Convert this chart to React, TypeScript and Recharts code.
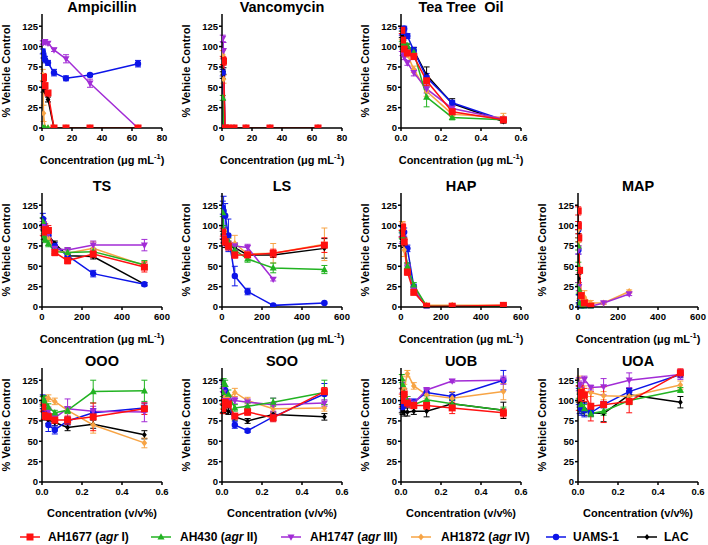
import React from "react";
import { LineChart, Line, XAxis, YAxis, ErrorBar } from "recharts";

// strain order: AH1677, AH430, AH1747, AH1872, UAMS-1, LAC
const strainNames = ["AH1677", "AH430", "AH1747", "AH1872", "UAMS-1", "LAC"];
const strainAgr = ["I", "II", "III", "IV", "", ""];
const strainColors = ["#ff1010", "#22b322", "#a22cd6", "#f7a445", "#0c14e8", "#000000"];
const strainShapes = ["square", "triUp", "triDown", "diamond", "circle", "cross"];

const yTicks = [0, 25, 50, 75, 100, 125];

// Ampicillin (µg/mL)
const ampX = [0.5, 1, 2, 4, 8, 16, 32, 64];
const ampAH1677 = [null, 62, 52, 43, 0, 0, 0, 0];
const ampAH430 = [0, 0, 0, 0, 0, 0, 0, 0];
const ampAH1747 = [105, 105, 106, 104, 96, 85, 55, 0];
const ampAH1872 = [65, 18, 0, 0, 0, 0, 0, 0];
const ampUAMS1 = [94, 89, 84, 80, 68, 61, 65, 79];
const ampLAC = [null, 47, 45, 35, 0, 0, 0, 0];
const ampErr = [
  [0, 5, 3, 2, 0, 0, 0, 0],
  [0, 0, 0, 0, 0, 0, 0, 0],
  [2, 2, 2, 2, 2, 5, 5, 0],
  [7, 10, 0, 0, 0, 0, 0, 0],
  [3, 3, 4, 3, 4, 3, 2, 4],
  [0, 3, 3, 3, 0, 0, 0, 0],
];

// Vancomycin (µg/mL)
const vanX = [0.5, 1, 2, 4, 8, 16, 32, 64];
const vanAH1677 = [83, 82, 0, 0, 0, 0, 0, 0];
const vanAH430 = [37, 0, 0, 0, 0, 0, 0, 0];
const vanAH1747 = [110, 95, 0, 0, 0, 0, 0, 0];
const vanAH1872 = [90, 60, 0, 0, 0, 0, 0, 0];
const vanUAMS1 = [68, 0, 0, 0, 0, 0, 0, 0];
const vanLAC = [65, 70, 0, 0, 0, 0, 0, 0];
const vanErr = [
  [5, 5, 0, 0, 0, 0, 0, 0],
  [3, 0, 0, 0, 0, 0, 0, 0],
  [4, 10, 0, 0, 0, 0, 0, 0],
  [5, 5, 0, 0, 0, 0, 0, 0],
  [4, 0, 0, 0, 0, 0, 0, 0],
  [4, 4, 0, 0, 0, 0, 0, 0],
];

// Tea Tree Oil (µg/mL)
const ttoX = [0.004, 0.008, 0.016, 0.032, 0.064, 0.128, 0.256, 0.512];
const ttoAH1677 = [120, 108, 97, 92, 88, 58, 20, 10];
const ttoAH430 = [103, 100, 101, 101, 93, 38, 13, 10];
const ttoAH1747 = [97, 93, 87, 80, 68, 48, 24, 11];
const ttoAH1872 = [105, 100, 95, 90, 72, 45, 17, 13];
const ttoUAMS1 = [118, 120, 122, 113, 95, 62, 31, 10];
const ttoLAC = [115, 112, 108, 100, 95, 65, 30, 8];
const ttoErr = [
  [4, 5, 3, 3, 4, 6, 3, 2],
  [3, 3, 3, 3, 4, 12, 3, 2],
  [3, 4, 3, 3, 4, 5, 3, 2],
  [4, 4, 4, 3, 4, 6, 3, 5],
  [4, 5, 3, 3, 4, 5, 3, 2],
  [4, 4, 4, 3, 4, 10, 6, 2],
];

// TS (µg/mL)
const tsX = [4, 8, 16, 32, 64, 128, 256, 512];
const tsAH1677 = [93, 92, 95, 94, 67, 57, 65, 49];
const tsAH430 = [105, 88, 83, 78, 68, 67, 68, 52];
const tsAH1747 = [100, 102, 97, 90, 72, 70, 76, 76];
const tsAH1872 = [100, 95, 90, 85, 70, 66, 72, 51];
const tsUAMS1 = [108, 103, 95, 88, 75, 63, 41, 28];
const tsLAC = [105, 98, 92, 88, 78, 63, 62, 28];
const tsErr = [
  [5, 5, 7, 6, 4, 4, 4, 6],
  [5, 5, 4, 4, 4, 5, 4, 5],
  [5, 6, 5, 4, 4, 3, 5, 7],
  [5, 5, 5, 4, 4, 4, 8, 5],
  [7, 6, 5, 4, 4, 4, 4, 2],
  [4, 4, 4, 4, 3, 3, 3, 2],
];

// LS (µg/mL)
const lsX = [4, 8, 16, 32, 64, 128, 256, 512];
const lsAH1677 = [92, 83, 80, 75, 64, 64, 66, 76];
const lsAH430 = [116, 95, 82, 80, 70, 59, 48, 46];
const lsAH1747 = [90, 85, 80, 75, 75, 73, 34, null];
const lsAH1872 = [90, 88, 82, 78, 78, 65, 66, 77];
const lsUAMS1 = [122, 118, 112, 88, 38, 19, 2, 5];
const lsLAC = [88, 84, 78, 76, 73, 64, 64, 72];
const lsErr = [
  [5, 5, 4, 5, 4, 3, 5, 9],
  [5, 5, 5, 5, 5, 4, 6, 5],
  [6, 5, 5, 5, 4, 4, 2, 0],
  [6, 6, 6, 6, 10, 4, 12, 20],
  [8, 18, 15, 20, 12, 4, 1, 1],
  [5, 5, 5, 5, 4, 3, 3, 12],
];

// HAP (µg/mL)
const hapX = [4, 8, 16, 32, 64, 128, 256, 512];
const hapAH1677 = [90, 98, 80, 43, 18, 1, 1, 2];
const hapAH430 = [88, 85, 80, 50, 27, 1, 1, 1];
const hapAH1747 = [82, 85, 80, 48, 22, 0, 1, 1];
const hapAH1872 = [100, 97, 70, 45, 22, 2, 2, 2];
const hapUAMS1 = [95, 93, 92, 72, 25, 0, 1, 1];
const hapLAC = [90, 88, 78, 48, 20, 0, 1, 1];
const hapErr = [
  [4, 5, 5, 4, 3, 1, 1, 1],
  [4, 5, 5, 4, 3, 1, 1, 1],
  [4, 5, 5, 4, 3, 1, 1, 1],
  [5, 8, 8, 4, 3, 1, 1, 1],
  [4, 5, 5, 4, 3, 1, 1, 1],
  [4, 5, 5, 6, 3, 1, 1, 1],
];

// MAP (µg/mL)
const mapX = [1, 2, 4, 8, 16, 32, 64, 128, 256];
const mapAH1677 = [118, 100, 85, 45, 14, 5, 1, null, null];
const mapAH430 = [75, 50, 22, 5, 0, 0, 0, null, null];
const mapAH1747 = [100, 70, 25, 5, 2, 1, 1, 5, 16];
const mapAH1872 = [95, 80, 25, 15, 10, 12, 5, 5, 19];
const mapUAMS1 = [95, 70, 10, 0, 0, 0, 0, null, null];
const mapLAC = [90, 35, 10, 2, 0, 0, 0, null, null];
const mapErr = [
  [5, 5, 5, 3, 3, 2, 1, 0, 0],
  [5, 5, 5, 3, 1, 1, 1, 0, 0],
  [5, 5, 5, 3, 1, 1, 1, 1, 2],
  [5, 5, 5, 5, 5, 8, 3, 2, 2],
  [5, 5, 5, 1, 1, 1, 1, 0, 0],
  [5, 5, 5, 1, 1, 1, 1, 0, 0],
];

// oils (v/v%)
const oilX = [0.004, 0.008, 0.016, 0.032, 0.064, 0.128, 0.256, 0.512];

const oooAH1677 = [92, 82, 81, 80, 76, 76, 80, 90];
const oooAH430 = [100, 102, 97, 92, 85, 88, 111, 112];
const oooAH1747 = [100, 95, 90, 87, 79, 90, 87, 86];
const oooAH1872 = [97, 100, 101, 103, 99, 88, 70, 48];
const oooUAMS1 = [100, 98, 85, 70, 64, 75, 85, 91];
const oooLAC = [95, 90, 80, 76, 73, 67, 71, 58];
const oooErr = [
  [5, 5, 4, 4, 4, 5, 17, 7],
  [5, 4, 4, 4, 3, 4, 14, 13],
  [5, 5, 5, 5, 5, 12, 6, 12],
  [4, 4, 4, 4, 4, 4, 10, 6],
  [7, 8, 7, 8, 5, 5, 5, 5],
  [5, 4, 4, 4, 4, 4, 5, 5],
];

const sooAH1677 = [90, 95, 98, 96, 81, 86, 79, 111];
const sooAH430 = [110, 122, 120, 108, 91, 93, 98, 110];
const sooAH1747 = [117, 110, 100, 100, 100, 98, 95, 97];
const sooAH1872 = [95, 100, 105, 102, 110, 100, 90, 91];
const sooUAMS1 = [120, 115, 112, 100, 70, 63, 80, 108];
const sooLAC = [90, 90, 88, 87, 80, 75, 83, 80];
const sooErr = [
  [6, 6, 5, 5, 3, 4, 5, 5],
  [5, 5, 5, 5, 4, 4, 5, 15],
  [6, 5, 5, 5, 4, 4, 8, 4],
  [5, 5, 5, 5, 5, 4, 4, 4],
  [5, 5, 5, 4, 4, 2, 5, 13],
  [5, 4, 4, 4, 4, 3, 3, 4],
];

const uobAH1677 = [100, 107, 108, 97, 94, 94, 91, 85];
const uobAH430 = [127, 120, 110, 100, 95, 101, 96, 88];
const uobAH1747 = [120, 105, 100, 100, 97, 113, 124, 125];
const uobAH1872 = [110, 125, 115, 133, 118, 107, 103, 111];
const uobUAMS1 = [95, 92, 97, 97, 98, 110, 105, 125];
const uobLAC = [90, 88, 86, 86, 87, 87, 96, 88];
const uobErr = [
  [8, 7, 6, 5, 4, 5, 7, 5],
  [5, 5, 5, 5, 4, 5, 5, 4],
  [5, 5, 5, 5, 4, 3, 2, 5],
  [5, 5, 5, 4, 4, 4, 8, 10],
  [5, 5, 5, 4, 4, 4, 5, 12],
  [5, 5, 5, 5, 4, 7, 5, 10],
];

const uoaAH1677 = [103, 108, 110, 107, 93, 95, 99, 134];
const uoaAH430 = [112, 105, 95, 90, 84, 87, 100, 113];
const uoaAH1747 = [120, 118, 110, 126, 116, 117, 125, 132];
const uoaAH1872 = [115, 120, 112, 110, 110, 106, 105, 119];
const uoaUAMS1 = [105, 92, 90, 88, 85, 95, 111, 132];
const uoaLAC = [108, 100, 92, 90, 85, 84, 107, 98];
const uoaErr = [
  [15, 10, 8, 8, 18, 22, 14, 5],
  [10, 8, 8, 5, 4, 5, 5, 3],
  [8, 6, 6, 4, 3, 10, 9, 6],
  [12, 10, 8, 8, 5, 5, 5, 5],
  [10, 8, 8, 8, 4, 4, 4, 4],
  [10, 8, 8, 8, 4, 10, 8, 7],
];

const colLeft = [42, 222, 401, 578];
const rowTop = [14, 193, 368];
const PW = 120;
const PH = 114;

const FONT = "'Liberation Sans', Arial, Helvetica, sans-serif";

type Vals = (number | null)[];
interface PanelDef {
  title: string;
  col: number;
  row: number;
  x: number[];
  ys: Vals[];
  errs: number[][];
  xMax: number;
  xTicks: number[];
  decimals: number;
  unit: "ug" | "vv";
}

const ugTicks80 = [0, 20, 40, 60, 80];
const ugTicks600 = [0, 200, 400, 600];
const fracTicks = [0, 0.2, 0.4, 0.6];

const panels: PanelDef[] = [
  { title: "Ampicillin", col: 0, row: 0, x: ampX, ys: [ampAH1677, ampAH430, ampAH1747, ampAH1872, ampUAMS1, ampLAC], errs: ampErr, xMax: 80, xTicks: ugTicks80, decimals: 0, unit: "ug" },
  { title: "Vancomycin", col: 1, row: 0, x: vanX, ys: [vanAH1677, vanAH430, vanAH1747, vanAH1872, vanUAMS1, vanLAC], errs: vanErr, xMax: 80, xTicks: ugTicks80, decimals: 0, unit: "ug" },
  { title: "Tea Tree  Oil", col: 2, row: 0, x: ttoX, ys: [ttoAH1677, ttoAH430, ttoAH1747, ttoAH1872, ttoUAMS1, ttoLAC], errs: ttoErr, xMax: 0.6, xTicks: fracTicks, decimals: 1, unit: "ug" },
  { title: "TS", col: 0, row: 1, x: tsX, ys: [tsAH1677, tsAH430, tsAH1747, tsAH1872, tsUAMS1, tsLAC], errs: tsErr, xMax: 600, xTicks: ugTicks600, decimals: 0, unit: "ug" },
  { title: "LS", col: 1, row: 1, x: lsX, ys: [lsAH1677, lsAH430, lsAH1747, lsAH1872, lsUAMS1, lsLAC], errs: lsErr, xMax: 600, xTicks: ugTicks600, decimals: 0, unit: "ug" },
  { title: "HAP", col: 2, row: 1, x: hapX, ys: [hapAH1677, hapAH430, hapAH1747, hapAH1872, hapUAMS1, hapLAC], errs: hapErr, xMax: 600, xTicks: ugTicks600, decimals: 0, unit: "ug" },
  { title: "MAP", col: 3, row: 1, x: mapX, ys: [mapAH1677, mapAH430, mapAH1747, mapAH1872, mapUAMS1, mapLAC], errs: mapErr, xMax: 600, xTicks: ugTicks600, decimals: 0, unit: "ug" },
  { title: "OOO", col: 0, row: 2, x: oilX, ys: [oooAH1677, oooAH430, oooAH1747, oooAH1872, oooUAMS1, oooLAC], errs: oooErr, xMax: 0.6, xTicks: fracTicks, decimals: 1, unit: "vv" },
  { title: "SOO", col: 1, row: 2, x: oilX, ys: [sooAH1677, sooAH430, sooAH1747, sooAH1872, sooUAMS1, sooLAC], errs: sooErr, xMax: 0.6, xTicks: fracTicks, decimals: 1, unit: "vv" },
  { title: "UOB", col: 2, row: 2, x: oilX, ys: [uobAH1677, uobAH430, uobAH1747, uobAH1872, uobUAMS1, uobLAC], errs: uobErr, xMax: 0.6, xTicks: fracTicks, decimals: 1, unit: "vv" },
  { title: "UOA", col: 3, row: 2, x: oilX, ys: [uoaAH1677, uoaAH430, uoaAH1747, uoaAH1872, uoaUAMS1, uoaLAC], errs: uoaErr, xMax: 0.6, xTicks: fracTicks, decimals: 1, unit: "vv" },
];

// draw LAC first, AH1677 last (on top)
const drawOrder = [5, 4, 3, 2, 1, 0];

function Marker({ shape, x, y, color }: { shape: string; x: number; y: number; color: string }) {
  switch (shape) {
    case "square":
      return <rect x={x - 3.5} y={y - 3.5} width={7} height={7} fill={color} />;
    case "triUp":
      return <polygon points={`${x},${y - 3.8} ${x + 3.5},${y + 2.6} ${x - 3.5},${y + 2.6}`} fill={color} />;
    case "triDown":
      return <polygon points={`${x},${y + 3.8} ${x + 3.5},${y - 2.6} ${x - 3.5},${y - 2.6}`} fill={color} />;
    case "diamond":
      return <polygon points={`${x},${y - 3.5} ${x + 2.8},${y} ${x},${y + 3.5} ${x - 2.8},${y}`} fill={color} />;
    case "circle":
      return <circle cx={x} cy={y} r={3.2} fill={color} />;
    default:
      return <polygon points={`${x},${y - 3} ${x + 2.4},${y} ${x},${y + 3} ${x - 2.4},${y}`} fill={color} />;
  }
}

const makeDot = (si: number) => (p: any) => {
  const { cx, cy, value, index } = p;
  const key = `d${si}-${index}`;
  if (cx == null || cy == null || value == null || Number.isNaN(cy)) return <g key={key} />;
  return (
    <g key={key}>
      <Marker shape={strainShapes[si]} x={cx} y={cy} color={strainColors[si]} />
    </g>
  );
};

function Panel({ p }: { p: PanelDef }) {
  const data = p.x.map((x, i) => {
    const row: Record<string, number | null> = { x };
    p.ys.forEach((vals, si) => {
      const v = vals[i] ?? null;
      row[`s${si}`] = v;
      row[`e${si}`] = v == null ? null : p.errs[si][i];
    });
    return row;
  });
  const left = colLeft[p.col];
  const top = rowTop[p.row];
  const tickStyle = { fill: "#000", fontSize: 9.5, fontWeight: 700, fontFamily: FONT };
  return (
    <>
      <div
        style={{
          position: "absolute",
          left: left + PW / 2,
          top: top - 7,
          transform: "translate(-50%, -50%)",
          fontSize: 14.5,
          fontWeight: 700,
          whiteSpace: "pre",
        }}
      >
        {p.title}
      </div>
      <div
        style={{
          position: "absolute",
          left: left - 36,
          top: top + PH / 2,
          transform: "translate(-50%, -50%) rotate(-90deg)",
          fontSize: 11,
          fontWeight: 700,
          whiteSpace: "nowrap",
        }}
      >
        % Vehicle Control
      </div>
      <div
        style={{
          position: "absolute",
          left: left + PW / 2,
          top: top + PH + 31,
          transform: "translate(-50%, -50%)",
          fontSize: 11,
          fontWeight: 700,
          whiteSpace: "nowrap",
        }}
      >
        {p.unit === "ug" ? (
          <>
            Concentration (μg mL<sup style={{ fontSize: 7.5 }}>-1</sup>)
          </>
        ) : (
          "Concentration (v/v%)"
        )}
      </div>
      <div style={{ position: "absolute", left: left - 40, top: top - 6 }}>
        <LineChart width={40 + PW + 12} height={6 + PH + 22} data={data} margin={{ top: 6, right: 12, bottom: 0, left: 0 }}>
          <XAxis
            dataKey="x"
            type="number"
            domain={[0, p.xMax]}
            ticks={p.xTicks}
            interval={0}
            tickFormatter={(v: number) => v.toFixed(p.decimals)}
            stroke="#000"
            strokeWidth={1.5}
            tickSize={3}
            tickMargin={3}
            height={22}
            tick={tickStyle}
            allowDataOverflow
          />
          <YAxis
            type="number"
            domain={[0, 140]}
            ticks={yTicks}
            interval={0}
            stroke="#000"
            strokeWidth={1.5}
            tickSize={3}
            tickMargin={1}
            width={40}
            tick={tickStyle}
            allowDataOverflow
          />
          {drawOrder.map((si) => (
            <Line
              key={si}
              type="linear"
              dataKey={`s${si}`}
              stroke={strainColors[si]}
              strokeWidth={1.5}
              dot={makeDot(si)}
              activeDot={false}
              connectNulls
              isAnimationActive={false}
            >
              <ErrorBar
                dataKey={`e${si}`}
                direction="y"
                width={3}
                stroke={strainColors[si]}
                strokeWidth={1}
                isAnimationActive={false}
              />
            </Line>
          ))}
        </LineChart>
      </div>
    </>
  );
}

const legendMarkerX = [30, 161, 291, 421, 556, 647];
const legendTextX = [48, 180, 310, 441, 573, 664];

function Legend() {
  return (
    <>
      {strainNames.map((name, si) => (
        <React.Fragment key={name}>
          <svg
            width={24}
            height={12}
            style={{ position: "absolute", left: legendMarkerX[si] - 12, top: 531 }}
          >
            <line x1={2} y1={6} x2={22} y2={6} stroke={strainColors[si]} strokeWidth={1.5} />
            <Marker shape={strainShapes[si]} x={12} y={6} color={strainColors[si]} />
          </svg>
          <div
            style={{
              position: "absolute",
              left: legendTextX[si],
              top: 537,
              transform: "translateY(-50%)",
              fontSize: 12,
              fontWeight: 700,
              whiteSpace: "nowrap",
            }}
          >
            {name}
            {strainAgr[si] ? (
              <>
                {" ("}
                <i>agr</i>
                {` ${strainAgr[si]})`}
              </>
            ) : null}
          </div>
        </React.Fragment>
      ))}
    </>
  );
}

export default function App() {
  return (
    <div
      style={{
        position: "absolute",
        left: 0,
        top: 0,
        width: 708,
        height: 545,
        background: "#fff",
        fontFamily: FONT,
        color: "#000",
        overflow: "hidden",
      }}
    >
      {panels.map((p) => (
        <Panel key={p.title} p={p} />
      ))}
      <Legend />
    </div>
  );
}
